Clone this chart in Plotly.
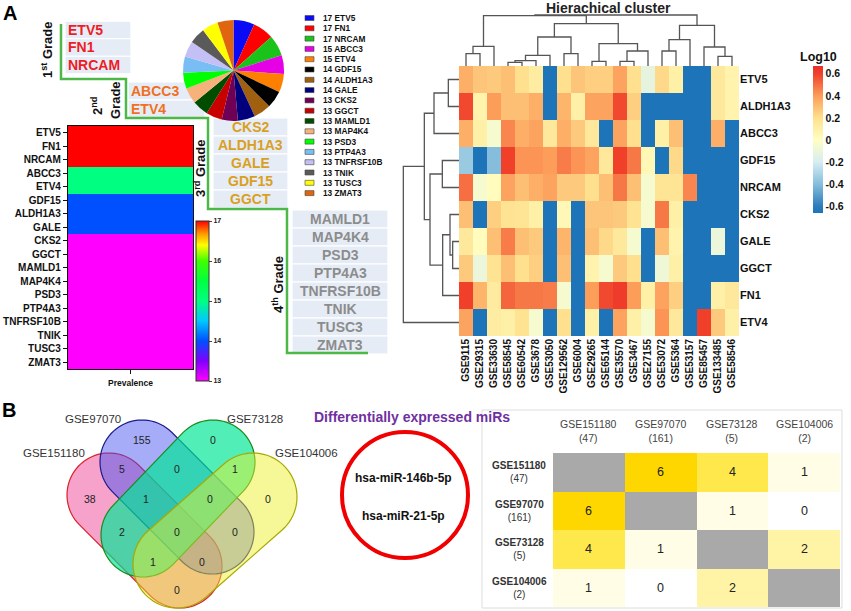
import numpy as np
import plotly.graph_objects as go

W, H = 851, 611
def px(x): return x / W
def py(y): return 1 - y / H

FONT = "Liberation Sans, Arial, sans-serif"

# ---------------- DATA ----------------
prev_genes = ["ETV5", "FN1", "NRCAM", "ABCC3", "ETV4", "GDF15", "ALDH1A3", "GALE", "CKS2",
              "GGCT", "MAMLD1", "MAP4K4", "PSD3", "PTP4A3", "TNFRSF10B", "TNIK", "TUSC3", "ZMAT3"]
prev_values = [17, 17, 17, 15, 15, 14, 14, 14, 13, 13, 13, 13, 13, 13, 13, 13, 13, 13]
pie_colors = ["#0A0AF5", "#FF0000", "#19C319", "#E600E6", "#FF8000", "#000000", "#A0600F", "#00007D",
              "#6E0055", "#C80000", "#004D00", "#F7B27C", "#00FF00", "#78BEF5", "#C4C0F5", "#5A5A5A",
              "#FFFF00", "#E0650F"]

grade1 = ["ETV5", "FN1", "NRCAM"]
grade2 = ["ABCC3", "ETV4"]
grade3 = ["CKS2", "ALDH1A3", "GALE", "GDF15", "GGCT"]
grade4 = ["MAMLD1", "MAP4K4", "PSD3", "PTP4A3", "TNFRSF10B", "TNIK", "TUSC3", "ZMAT3"]

hc_genes = ["ETV5", "ALDH1A3", "ABCC3", "GDF15", "NRCAM", "CKS2", "GALE", "GGCT", "FN1", "ETV4"]
hc_datasets = ["GSE9115", "GSE29315", "GSE33630", "GSE58545", "GSE60542", "GSE3678", "GSE53050",
               "GSE129562", "GSE6004", "GSE29265", "GSE65144", "GSE35570", "GSE3467", "GSE27155",
               "GSE53072", "GSE5364", "GSE53157", "GSE85457", "GSE133485", "GSE58546"]
L = -0.66
hc_values = [
    [0.35, 0.28, 0.27, 0.30, 0.20, 0.12, L, 0.20, 0.28, 0.25, 0.25, 0.38, 0.20, -0.12, 0.22, 0.10, L, L, 0.15, 0.08],
    [0.58, 0.08, 0.40, 0.30, 0.30, 0.35, L, 0.33, 0.10, 0.38, 0.38, 0.58, 0.25, L, L, L, L, L, 0.15, 0.08],
    [0.35, 0.10, -0.05, 0.45, 0.35, 0.38, 0.15, 0.35, 0.27, 0.15, L, 0.38, 0.20, L, 0.10, 0.30, L, L, 0.35, L],
    [-0.35, L, -0.40, 0.60, 0.42, 0.42, 0.40, 0.47, 0.42, 0.38, 0.15, 0.60, 0.48, 0.05, L, 0.22, L, L, L, L],
    [0.50, -0.05, 0.02, 0.38, 0.30, 0.35, 0.38, 0.27, 0.27, 0.20, 0.30, 0.48, 0.30, -0.05, 0.17, 0.17, 0.45, L, L, L],
    [0.30, L, 0.25, 0.18, 0.17, 0.10, L, 0.05, L, 0.28, 0.28, 0.27, 0.18, -0.05, 0.48, 0.10, L, L, L, L],
    [0.15, 0.02, 0.30, 0.47, 0.30, 0.27, L, 0.33, L, 0.30, 0.22, 0.15, -0.05, L, 0.30, 0.08, L, L, -0.10, L],
    [0.27, -0.10, 0.18, 0.30, 0.20, 0.25, L, 0.30, L, 0.08, -0.05, 0.27, 0.20, L, -0.08, 0.10, L, L, L, L],
    [0.60, 0.33, 0.13, 0.52, 0.48, 0.48, 0.47, -0.05, L, 0.40, 0.58, 0.62, 0.40, 0.10, 0.38, 0.25, L, L, 0.10, 0.15],
    [0.38, L, 0.12, 0.10, 0.18, -0.05, L, 0.20, L, 0.10, L, 0.38, 0.10, -0.05, 0.42, 0.15, L, 0.60, 0.27, 0.10],
]
# linkage: (left, right, height); ids >= n_leaves refer to earlier merges
col_merges = [(3, 4, 11), (20, 5, 16), (21, 6, 32), (7, 8, 37), (22, 23, 87), (9, 10, 14),
              (11, 12, 14), (26, 13, 45), (25, 27, 67), (24, 28, 127), (0, 1, 37), (30, 2, 59),
              (31, 29, 151), (14, 15, 45), (33, 16, 79), (18, 19, 29), (17, 35, 57), (34, 36, 122),
              (32, 37, 153)]
row_merges = [(0, 1, 32), (10, 2, 75), (3, 4, 50), (6, 7, 19), (5, 13, 27), (14, 8, 49),
              (12, 15, 87), (11, 16, 104), (17, 9, 167)]

venn_sets = ["GSE151180", "GSE97070", "GSE73128", "GSE104006"]
venn_counts = [155, 0, 5, 0, 1, 38, 1, 0, 0, 2, 0, 0, 1, 0, 0]
mir_common = ["hsa-miR-146b-5p", "hsa-miR-21-5p"]
tbl_sets = ["GSE151180", "GSE97070", "GSE73128", "GSE104006"]
tbl_sizes = [47, 161, 5, 2]
tbl_overlap = [[None, 6, 4, 1], [6, None, 1, 0], [4, 1, None, 2], [1, 0, 2, None]]

# ---------------- FIGURE ----------------
fig = go.Figure()

prev_cs = [[0, "#FF00FF"], [0.125, "#8000FF"], [0.25, "#0050FF"], [0.375, "#00C8FF"],
           [0.5, "#00FF80"], [0.625, "#00FF40"], [0.75, "#40FF00"], [0.85, "#FFFF00"],
           [0.92, "#FF9900"], [1, "#FF0000"]]
fig.add_trace(go.Heatmap(
    z=[[v] for v in prev_values], x=["Prevalence"], y=prev_genes, xaxis="x", yaxis="y",
    colorscale=prev_cs, zmin=13, zmax=17, hoverinfo="skip",
    colorbar=dict(x=px(196), xanchor="left", y=py(301), yanchor="middle", len=160, lenmode="pixels",
                  thickness=13, thicknessmode="pixels", outlinewidth=1, outlinecolor="#333",
                  xpad=0, ypad=0, tickvals=[13, 14, 15, 16, 17], ticks="outside", ticklen=3,
                  tickfont=dict(size=7, family=FONT, color="#222", weight="bold"))))

fig.add_trace(go.Pie(
    values=prev_values, labels=prev_genes, marker=dict(colors=pie_colors, line=dict(width=0)),
    sort=False, direction="clockwise", rotation=0, textinfo="none", hoverinfo="skip",
    domain=dict(x=[px(183), px(284)], y=[py(121), py(20)]), showlegend=False))

hc_cs = [[0, "#1E74B8"], [0.045, "#2B7CBB"], [0.195, "#86BDDC"], [0.346, "#D6EDF3"],
         [0.496, "#FFFFC2"], [0.647, "#FEE08E"], [0.797, "#FC9D5A"], [0.947, "#F0402A"], [1, "#E8302A"]]
fig.add_trace(go.Heatmap(
    z=hc_values, x=hc_datasets, y=hc_genes, xaxis="x2", yaxis="y2", colorscale=hc_cs,
    zmin=-0.66, zmax=0.67, hoverinfo="skip",
    colorbar=dict(x=px(813), xanchor="left", y=py(139.5), yanchor="middle", len=147, lenmode="pixels",
                  thickness=10, thicknessmode="pixels", outlinewidth=0, xpad=0, ypad=0,
                  tickvals=[-0.6, -0.4, -0.2, 0, 0.2, 0.4, 0.6],
                  ticktext=["-0.6", "-0.4", "-0.2", "0", "0.2", "0.4", "0.6"], ticks="",
                  tickfont=dict(size=10.5, family=FONT, color="#111", weight="bold"))))


def dendro_lines(merges, n_leaves):
    pos = {i: (float(i), 0.0) for i in range(n_leaves)}
    xs, hs = [], []
    for k, (a, b, h) in enumerate(merges):
        xa, ha = pos[a]
        xb, hb = pos[b]
        xs += [xa, xa, xb, xb, None]
        hs += [ha, h, h, hb, None]
        pos[n_leaves + k] = ((xa + xb) / 2, h)
    return xs, hs


cx, ch = dendro_lines(col_merges, len(hc_datasets))
fig.add_trace(go.Scatter(x=cx, y=ch, mode="lines", line=dict(color="#555", width=1.3),
                         xaxis="x3", yaxis="y3", hoverinfo="skip", showlegend=False))
rx, rh = dendro_lines(row_merges, len(hc_genes))
fig.add_trace(go.Scatter(x=rh, y=rx, mode="lines", line=dict(color="#555", width=1.3),
                         xaxis="x4", yaxis="y4", hoverinfo="skip", showlegend=False))

tbl_cs = [[0, "#FFFFFF"], [1 / 6, "#FFFDE6"], [2 / 6, "#FFF4A6"], [4 / 6, "#FFE84C"], [1, "#FFD700"]]
diag = [[1 if v is None else None for v in row] for row in tbl_overlap]
fig.add_trace(go.Heatmap(z=tbl_overlap, x=tbl_sets, y=tbl_sets, colorscale=tbl_cs, zmin=0, zmax=6,
                         showscale=False, xaxis="x5", yaxis="y5", hoverinfo="skip"))
fig.add_trace(go.Heatmap(z=diag, x=tbl_sets, y=tbl_sets, colorscale=[[0, "#A9A9A9"], [1, "#A9A9A9"]],
                         showscale=False, xaxis="x5", yaxis="y5", hoverinfo="skip"))

shapes = []
ann = []

def A(x, y, text, size=10, color="#222", bold=False, angle=0, xanchor="center", **kw):
    d = dict(x=px(x), y=py(y), xref="paper", yref="paper", text=text, showarrow=False,
             xanchor=xanchor, yanchor="middle", textangle=angle,
             font=dict(size=size, color=color, family=FONT, weight="bold" if bold else "normal"))
    d.update(kw)
    ann.append(d)

# table cell numbers
for i, rs in enumerate(tbl_sets):
    for j, cs in enumerate(tbl_sets):
        v = tbl_overlap[i][j]
        if v is not None:
            ann.append(dict(x=cs, xref="x5", y=rs, yref="y5", text=str(v), showarrow=False,
                            font=dict(size=12.5, color="#222", family=FONT)))

# panel letters
A(10, 13, "A", 20, "#000", True)
A(9, 410, "B", 20, "#000", True)

# grade boxes
def grade_block(genes, x0, x1, c0, step, color, align):
    for i, g in enumerate(genes):
        c = c0 + i * step
        shapes.append(dict(type="rect", xref="paper", yref="paper", x0=px(x0), x1=px(x1),
                           y0=py(c + step / 2), y1=py(c - step / 2), fillcolor="#E6ECF6",
                           line=dict(color="white", width=1.2), layer="below"))
        if align == "left":
            A(x0 + 1, c, g, 14, color, True, xanchor="left")
        else:
            A((x0 + x1) / 2, c, g, 14, color, True)

grade_block(grade1, 65, 131, 30, 17.5, "#EE1C25", "left")
grade_block(grade2, 128, 205, 91, 18, "#F07022", "left")
grade_block(grade3, 213, 288, 127, 18, "#D9A01E", "center")
grade_block(grade4, 292, 388, 219, 18, "#8C8C8C", "center")

path_pts = [(61, 24), (61, 79), (126, 79), (126, 118), (208, 118), (208, 209), (287, 209), (287, 353), (368, 353)]
shapes.append(dict(type="path", xref="paper", yref="paper",
                   path="M " + " L ".join(f"{px(x):.5f},{py(y):.5f}" for x, y in path_pts),
                   line=dict(color="#4CB848", width=2.5)))

A(47, 50, "1<sup>st</sup> Grade", 13, "#111", True, -90)
A(97, 106, "2<sup>nd</sup>", 13, "#111", True, -90)
A(115, 100, "Grade", 13, "#111", True, -90)
A(200, 168, "3<sup>rd</sup> Grade", 13, "#111", True, -90)
A(278, 285, "4<sup>th</sup> Grade", 13, "#111", True, -90)

# pie legend (manual, compact)
for i, (g, v, c) in enumerate(zip(prev_genes, prev_values, pie_colors)):
    yc = 18 + i * 10.3
    shapes.append(dict(type="rect", xref="paper", yref="paper", x0=px(305), x1=px(314),
                       y0=py(yc + 2.5), y1=py(yc - 2.5), fillcolor=c, line=dict(color="#444", width=0.6)))
    A(321, yc, f"{v} {g}", 8.3, "#111", True, xanchor="left")

A(130, 383, "Prevalence", 8.5, "#111", True)

# cluster title + colorbar title
A(608, 8, "Hierachical cluster", 14, "#222", True)
A(818, 57, "Log10", 12.5, "#111", True)

# Venn diagram (stadium shapes)
def stadium(p1, p2, r, n=40):
    p1 = np.array(p1, float); p2 = np.array(p2, float)
    u = p2 - p1
    th = np.arctan2(u[1], u[0])
    a2 = np.linspace(th - np.pi / 2, th + np.pi / 2, n)
    a1 = np.linspace(th + np.pi / 2, th + 3 * np.pi / 2, n)
    pts = [p2 + r * np.array([np.cos(a), np.sin(a)]) for a in a2] + \
          [p1 + r * np.array([np.cos(a), np.sin(a)]) for a in a1]
    return "M " + " L ".join(f"{px(x):.5f},{py(y):.5f}" for x, y in pts) + " Z"

venn_geom = [((109, 495), (180, 566), 42, "rgba(238,70,150,0.50)", "#D9202A"),
             ((142, 462), (212, 532), 42, "rgba(70,82,240,0.48)", "#1B1B8A"),
             ((213, 462), (143, 535), 42, "rgba(0,230,150,0.68)", "#1A8A1A"),
             ((253, 497), (177, 564), 44, "rgba(236,240,40,0.48)", "#A8A800")]
for p1, p2, r, fc, lc in venn_geom:
    shapes.append(dict(type="path", xref="paper", yref="paper", path=stadium(p1, p2, r),
                       fillcolor=fc, line=dict(color=lc, width=1.2)))

venn_set_pos = [(54, 453), (93, 419), (255, 419), (306, 453)]
for s, (x, y) in zip(venn_sets, venn_set_pos):
    A(x, y, s, 11.5, "#333")
venn_pos = [(142, 440), (213, 440), (122, 469), (177, 469), (235, 469), (90, 499), (146, 499),
            (210, 499), (268, 499), (122, 532), (177, 532), (235, 532), (153, 562), (202, 562), (177, 590)]
for v, (x, y) in zip(venn_counts, venn_pos):
    A(x, y, str(v), 10.5, "#222")

# red circle with common miRs
shapes.append(dict(type="circle", xref="paper", yref="paper", x0=px(342), x1=px(468),
                   y0=py(558), y1=py(432), line=dict(color="#F00000", width=4)))
A(403, 478, mir_common[0], 12, "#111", True)
A(403, 516, mir_common[1], 12, "#111", True)
A(412, 417, "Differentially expressed miRs", 14, "#7030A0", True)

# table frame + headers
shapes.append(dict(type="rect", xref="paper", yref="paper", x0=px(482), x1=px(842),
                   y0=py(608), y1=py(410), line=dict(color="#DDDDDD", width=1), layer="below"))
for s, n in zip(tbl_sets, tbl_sizes):
    ann.append(dict(x=s, xref="x5", y=py(431), yref="paper", text=f"{s}<br>({n})", showarrow=False,
                    font=dict(size=10.5, color="#444", family=FONT), align="center", yanchor="middle"))
    ann.append(dict(x=px(519), xref="paper", y=s, yref="y5", text=f"<b>{s}</b><br>({n})", showarrow=False,
                    font=dict(size=10, color="#333", family=FONT), align="center", xanchor="center"))

hidden = dict(showgrid=False, zeroline=False, showticklabels=False, ticks="", showline=False)

fig.update_layout(
    width=W, height=H, margin=dict(l=0, r=0, t=0, b=0),
    paper_bgcolor="white", plot_bgcolor="white", showlegend=False,
    font=dict(family=FONT),
    xaxis=dict(domain=[px(68), px(193)], showgrid=False, zeroline=False, showticklabels=False,
               ticks="outside", ticklen=4, tickcolor="#111", showline=True, linecolor="#111",
               linewidth=1.2, mirror=True, anchor="y"),
    yaxis=dict(domain=[py(369), py(126)], autorange="reversed", showgrid=False, zeroline=False,
               ticks="outside", ticklen=4, tickcolor="#111", showline=True, linecolor="#111",
               linewidth=1.2, mirror=True, anchor="x",
               tickfont=dict(size=10, color="#111", family=FONT, weight="bold")),
    xaxis2=dict(domain=[px(459), px(739)], anchor="y2", showgrid=False, zeroline=False, ticks="",
                tickangle=-90, tickfont=dict(size=10, color="#111", family=FONT, weight="bold")),
    yaxis2=dict(domain=[py(336), py(66)], anchor="x2", side="right", autorange="reversed",
                showgrid=False, zeroline=False, ticks="",
                tickfont=dict(size=11, color="#111", family=FONT, weight="bold")),
    xaxis3=dict(domain=[px(459), px(739)], anchor="y3", range=[-0.5, 19.5], **hidden),
    yaxis3=dict(domain=[py(66), py(12)], anchor="x3", range=[0, 162], **hidden),
    xaxis4=dict(domain=[px(400), px(459)], anchor="y4", range=[177, 0], **hidden),
    yaxis4=dict(domain=[py(336), py(66)], anchor="x4", range=[9.5, -0.5], **hidden),
    xaxis5=dict(domain=[px(553), px(840)], anchor="y5", **hidden),
    yaxis5=dict(domain=[py(607), py(453)], anchor="x5", autorange="reversed", **hidden),
    shapes=shapes, annotations=ann,
)

fig.write_html("out.html", config={"displayModeBar": False},
               post_script="document.body.style.margin='0';")
